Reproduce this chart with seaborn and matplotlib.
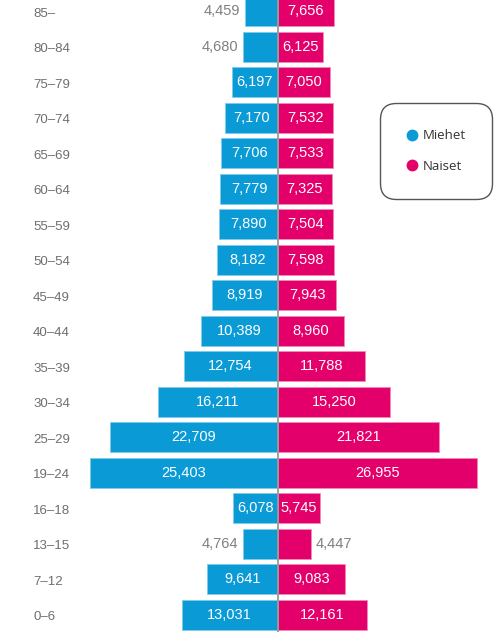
import matplotlib
matplotlib.use("Agg")
import matplotlib.pyplot as plt
from matplotlib.lines import Line2D
import seaborn as sns
import pandas as pd

categories = ["85–", "80–84", "75–79", "70–74", "65–69", "60–64", "55–59", "50–54",
              "45–49", "40–44", "35–39", "30–34", "25–29", "19–24", "16–18", "13–15",
              "7–12", "0–6"]
men = [4459, 4680, 6197, 7170, 7706, 7779, 7890, 8182, 8919, 10389, 12754, 16211,
       22709, 25403, 6078, 4764, 9641, 13031]
women = [7656, 6125, 7050, 7532, 7533, 7325, 7504, 7598, 7943, 8960, 11788, 15250,
         21821, 26955, 5745, 4447, 9083, 12161]
series_names = ["Miehet", "Naiset"]

BLUE = "#0A9BD7"
PINK = "#E4006B"

sns.set_theme(style="white")
plt.rcParams["font.family"] = ["Liberation Sans", "DejaVu Sans"]

fig = plt.figure(figsize=(4.95, 6.32), dpi=100)
ax = fig.add_axes([0, 0, 1, 1])

df = pd.DataFrame({"age": categories, "men": [-v for v in men], "women": women})
sns.barplot(data=df, x="men", y="age", orient="h", color=BLUE, width=0.845,
            saturation=1, edgecolor="#7fcdeb", linewidth=0.6, ax=ax)
sns.barplot(data=df, x="women", y="age", orient="h", color=PINK, width=0.845,
            saturation=1, edgecolor="#f38ab8", linewidth=0.6, ax=ax)

ax.set_xlim(-37630, 29444)
ax.set_ylim(17.49, -0.31)
ax.axis("off")
ax.axvline(0, color="#9a9a9a", lw=1.3, zorder=5)

THRESH = 5000
FS = 10.5
for i, (m, w) in enumerate(zip(men, women)):
    if m >= THRESH:
        ax.text(-m / 2, i, f"{m:,}", color="white", ha="center", va="center", fontsize=FS)
    else:
        ax.annotate(f"{m:,}", (-m, i), xytext=(-3.5, 0), textcoords="offset points",
                    color="#808080", ha="right", va="center", fontsize=FS)
    if w >= THRESH:
        ax.text(w / 2, i, f"{w:,}", color="white", ha="center", va="center", fontsize=FS)
    else:
        ax.annotate(f"{w:,}", (w, i), xytext=(3.5, 0), textcoords="offset points",
                    color="#808080", ha="left", va="center", fontsize=FS)

for i, c in enumerate(categories):
    ax.text(33 / 495, i + 0.08, c, transform=ax.get_yaxis_transform(), color="#6e6e6e",
            ha="left", va="center", fontsize=9.5)

handles = [Line2D([], [], marker="o", linestyle="none", markersize=7.5,
                  markerfacecolor=BLUE, markeredgecolor=BLUE),
           Line2D([], [], marker="o", linestyle="none", markersize=7.5,
                  markerfacecolor=PINK, markeredgecolor=PINK)]
leg = fig.legend(handles, series_names, loc="upper right",
                 bbox_to_anchor=(492 / 495, 1 - 103 / 632),
                 prop={"family": ["Open Sans", "DejaVu Sans"], "size": 9.5},
                 labelcolor="#333333", frameon=True, borderpad=2.0,
                 labelspacing=1.3, handlelength=0.8, handletextpad=0.4,
                 borderaxespad=0)
frame = leg.get_frame()
frame.set_edgecolor("#555555")
frame.set_linewidth(1.0)
frame.set_facecolor("white")
frame.set_alpha(1)
frame.set_boxstyle("round", pad=0, rounding_size=1.2)

fig.savefig("out.png", dpi=100)
